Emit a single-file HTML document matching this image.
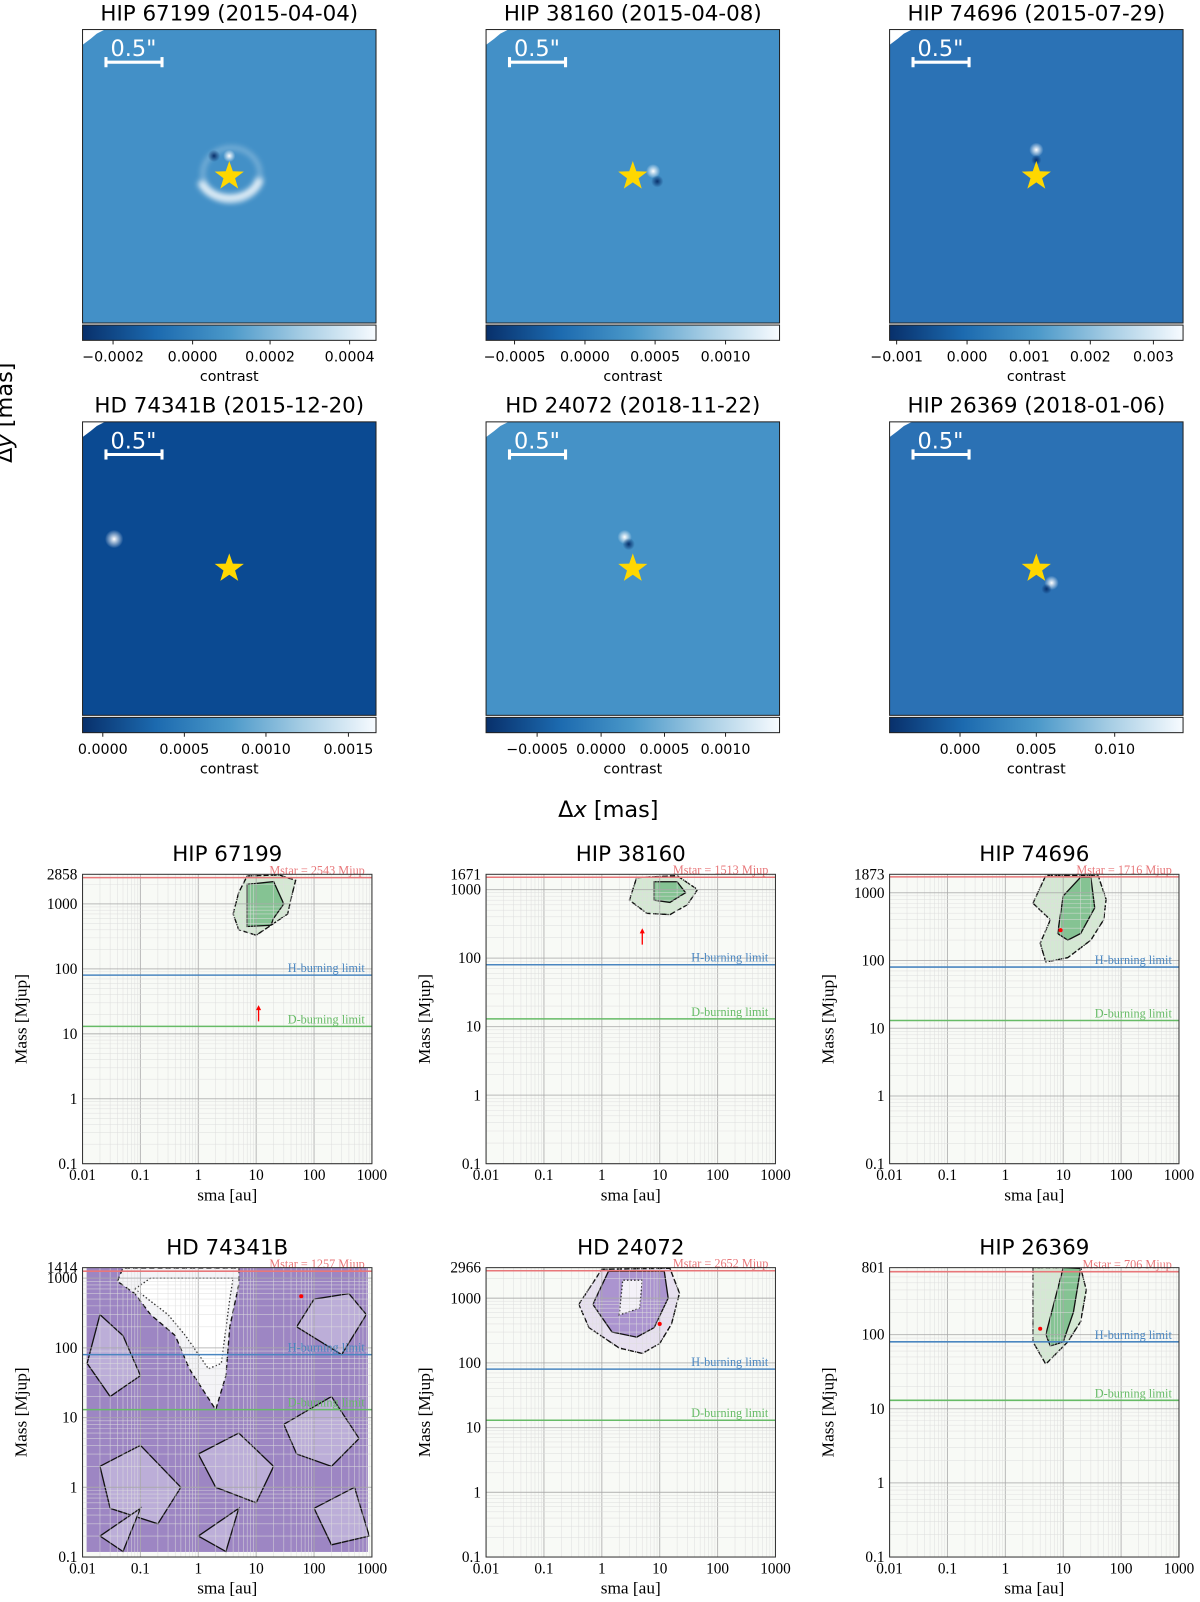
<!DOCTYPE html>
<html><head><meta charset="utf-8"><style>
body{margin:0;background:#fff;}
svg text{font-family:"DejaVu Sans","Liberation Sans",sans-serif;}
.serif{font-family:"Liberation Serif","DejaVu Serif",serif;}
</style></head><body>
<svg id="fig" width="1200" height="1597" viewBox="0 0 1200 1597" xmlns="http://www.w3.org/2000/svg">
<defs>
<linearGradient id="cb" x1="0" x2="1" y1="0" y2="0">
<stop offset="0" stop-color="#08306b"/><stop offset="0.25" stop-color="#1c6aaf"/><stop offset="0.5" stop-color="#4a98c9"/><stop offset="0.75" stop-color="#a6cde4"/><stop offset="1" stop-color="#f7fbff"/>
</linearGradient>
<radialGradient id="wb"><stop offset="0" stop-color="#fff"/><stop offset="1" stop-color="#fff" stop-opacity="0"/></radialGradient>
<radialGradient id="db"><stop offset="0" stop-color="#08306b"/><stop offset="1" stop-color="#08306b" stop-opacity="0"/></radialGradient>
<filter id="blur" x="-50%" y="-50%" width="200%" height="200%"><feGaussianBlur stdDeviation="3"/></filter>
</defs>
<g id="root" transform="scale(1.019)">
<text x="12" y="405" font-size="22" text-anchor="middle" transform="rotate(-90 12 405)">Δ<tspan font-style="italic">y</tspan> [mas]</text>
<text x="597" y="802" font-size="22" text-anchor="middle">Δ<tspan font-style="italic">x</tspan> [mas]</text>
<g id="imgs"></g>
<g id="charts"></g>
</g>
</svg>
<script>
const NS="http://www.w3.org/2000/svg";
function mk(p,tag,at,txt){const e=document.createElementNS(NS,tag);for(const k in at)e.setAttribute(k,at[k]);if(txt!==undefined)e.textContent=txt;p.appendChild(e);return e;}

// ---------- Image panels data ----------
const imgTitles=["HIP 67199 (2015-04-04)","HIP 38160 (2015-04-08)","HIP 74696 (2015-07-29)","HD 74341B (2015-12-20)","HD 24072 (2018-11-22)","HIP 26369 (2018-01-06)"];
const imgBg=["#4390c7","#4390c7","#2b72b5","#0b4a92","#4592c7","#2b71b4"];
const cbTickLabels=[["−0.0002","0.0000","0.0002","0.0004"],["−0.0005","0.0000","0.0005","0.0010"],["−0.001","0.000","0.001","0.002","0.003"],["0.0000","0.0005","0.0010","0.0015"],["−0.0005","0.0000","0.0005","0.0010"],["0.000","0.005","0.010"]];
const cbTickFrac=[[0.104,0.375,0.639,0.910],[0.097,0.337,0.576,0.816],[0.024,0.264,0.476,0.684,0.899],[0.069,0.347,0.625,0.906],[0.174,0.392,0.608,0.816],[0.240,0.500,0.767]];
const imgX=[81,477,873],imgY=[29,414];
const G=document.getElementById('imgs');
for(let i=0;i<6;i++){
 const x0=imgX[i%3],y0=imgY[Math.floor(i/3)],W=288;
 const g=mk(G,'g',{});
 
 
 const t=mk(g,'text',{x:x0+W/2,y:y0-9,'font-size':21,'text-anchor':'middle'},imgTitles[i]);
 
 
 mk(g,'rect',{x:x0,y:y0,width:W,height:W,fill:imgBg[i]});
 mk(g,'path',{d:`M${x0} ${y0}h22l-8 4l-6 5l-8 6z`,fill:'#fff'});
 const cx=x0+144,cy=y0+144;
 if(i==0){mk(g,'path',{d:`M${cx-28} ${cy+5} A30 24 0 0 0 ${cx+30} ${cy+2}`,fill:'none',stroke:'#f2f8fc','stroke-width':7,filter:'url(#blur)'});
  mk(g,'ellipse',{cx:cx+2,cy:cy-2,rx:28,ry:26,fill:'none',stroke:'#cfe3f1','stroke-width':3,opacity:0.6,filter:'url(#blur)'});
  mk(g,'circle',{cx:cx-15,cy:cy-20,r:6,fill:'url(#db)'});mk(g,'circle',{cx:cx,cy:cy-20,r:6,fill:'url(#wb)'});}
 if(i==1){mk(g,'circle',{cx:cx+20,cy:cy-5,r:7,fill:'url(#wb)'});mk(g,'circle',{cx:cx+24,cy:cy+5,r:6,fill:'url(#db)'});}
 if(i==2){mk(g,'circle',{cx:cx,cy:cy-26,r:7,fill:'url(#wb)'});mk(g,'circle',{cx:cx,cy:cy-16,r:5,fill:'url(#db)'});}
 if(i==3){mk(g,'circle',{cx:x0+31,cy:y0+115,r:9,fill:'url(#wb)'});}
 if(i==4){mk(g,'circle',{cx:cx-8,cy:cy-31,r:7,fill:'url(#wb)'});mk(g,'circle',{cx:cx-4,cy:cy-24,r:6,fill:'url(#db)'});}
 if(i==5){mk(g,'circle',{cx:cx+15,cy:cy+14,r:7,fill:'url(#wb)'});mk(g,'circle',{cx:cx+10,cy:cy+20,r:5,fill:'url(#db)'});}
 let pts=[];for(let k=0;k<10;k++){const r=k%2?6:15,a=-Math.PI/2+k*Math.PI/5;pts.push((cx+r*Math.cos(a)).toFixed(1)+','+(cy+r*Math.sin(a)).toFixed(1));}
 const st=mk(g,'polygon',{points:pts.join(' '),fill:'#ffd700'});
 
 
 mk(g,'rect',{x:x0,y:y0,width:W,height:W,fill:'none',stroke:'#222','stroke-width':1});
 const sb=mk(g,'g',{stroke:'#fff','stroke-width':3});
 
 
 mk(sb,'line',{x1:x0+22,y1:y0+32,x2:x0+79,y2:y0+32});mk(sb,'line',{x1:x0+23,y1:y0+27,x2:x0+23,y2:y0+37});mk(sb,'line',{x1:x0+78,y1:y0+27,x2:x0+78,y2:y0+37});
 mk(g,'text',{x:x0+50,y:y0+26,'font-size':22,'text-anchor':'middle',fill:'#fff'},'0.5"');
 const cb=mk(g,'rect',{x:x0,y:y0+290,width:W,height:15,fill:'url(#cb)',stroke:'#222','stroke-width':1});
 
 
 cbTickLabels[i].forEach((lb,k)=>{const tx=x0+cbTickFrac[i][k]*W;mk(g,'line',{x1:tx,y1:y0+305,x2:tx,y2:y0+309,stroke:'#222'});
  const tt=mk(g,'text',{x:tx,y:y0+326,'font-size':14,'text-anchor':'middle'},lb);
  
  });
 const ct=mk(g,'text',{x:x0+144,y:y0+345,'font-size':14,'text-anchor':'middle'},'contrast');
 
 
}

// ---------- Mass-sma charts data ----------
const chartTitles=["HIP 67199","HIP 38160","HIP 74696","HD 74341B","HD 24072","HIP 26369"];
const topMass=[2858,1671,1873,1414,2966,801];
const mstar=[2543,1513,1716,1257,2652,706];
const hLimit=80, dLimit=13;
const xTickLabels=["0.01","0.1","1","10","100","1000"];
const yTickLabels=["0.1","1","10","100","1000"];
const outerBlobs=[
 [[4,700],[5,1500],[7,2700],[25,2800],[48,2300],[40,1200],[35,700],[20,500],[10,330],[5,400]],
 [[3,700],[4,1500],[20,1600],[45,1000],[30,600],[15,430],[6,450]],
 [[3,700],[5,1800],[40,1800],[55,800],[50,400],[30,200],[12,110],[5,95],[4,180],[6,400]],
 [[0.04,900],[0.05,1400],[5,1400],[5,800],[3.5,200],[3,40],[2,13],[1.2,25],[0.7,50],[0.4,150],[0.15,300],[0.08,600]],
 [[0.4,800],[1,2800],[15,2900],[22,1200],[16,400],[10,200],[5,140],[2,170],[0.6,350]],
 [[3,200],[3,800],[20,800],[25,400],[20,150],[12,80],[5,40],[3,80]]];
const innerBlobs=[
 [[7,450],[7,2000],[20,2200],[30,1000],[20,600],[18,470]],
 [[8,700],[8,1300],[20,1300],[28,900],[15,650]],
 [[8,250],[10,900],[20,1700],[30,1700],[35,600],[20,250],[12,200]],
 [[0.03,5],[0.1,8],[0.2,3],[0.05,2]],
 [[0.7,800],[1.3,2600],[12,2600],[14,1000],[8,350],[4,250],[1.5,300]],
 [[5,100],[10,800],[20,780],[15,200],[10,80],[6,70]]];
const holeBlobs=[[],[],[],[],[[2,550],[2.3,1900],[5,1900],[4.5,700]],[]];
const markerSma=[11,5,9,60,10,4];
const markerMass=[20,200,280,550,400,120];
const fills=[["#cfe6cf","#7cbf8c","#6f9c7f"],["#cfe6cf","#7cbf8c","#6f9c7f"],["#cfe6cf","#7cbf8c","#6f9c7f"],["#ffffff","#9e87c4","#8c73b8"],["#e4ddef","#a48ccb","#9677c2"],["#cfe6cf","#7cbf8c","#6f9c7f"]];
const chX=[81,477,873],chYb=[1142,1528],H=284,Wc=284;
const C=document.getElementById('charts');
for(let i=0;i<6;i++){
 const x0=chX[i%3],yb=chYb[Math.floor(i/3)],yt=yb-H;
 const ly=Math.log10(topMass[i])+1;
 const X=s=>x0+(Math.log10(s)+2)/5*Wc;
 const Y=m=>yb-(Math.log10(m)+1)/ly*H;
 const g=mk(C,'g',{});
 
 
 const tt=mk(g,'text',{x:x0+Wc/2,y:yt-13,'font-size':21,'text-anchor':'middle'},chartTitles[i]);
 
 
 mk(g,'rect',{x:x0,y:yt,width:Wc,height:H,fill:'#f8faf6'});
 const clip=mk(g,'clipPath',{id:'cl'+i});mk(clip,'rect',{x:x0,y:yt,width:Wc,height:H});
 const pg=mk(g,'g',{'clip-path':'url(#cl'+i+')'});
 const poly=(arr,fill,stroke,dash,op)=>{if(!arr.length)return;const p=mk(pg,'polygon',{points:arr.map(d=>X(d[0]).toFixed(1)+','+Y(d[1]).toFixed(1)).join(' '),fill:fill,stroke:stroke,'stroke-width':1.3,'stroke-dasharray':dash,'fill-opacity':op});return p;};
 if(i==3){
  mk(pg,'rect',{x:x0+4,y:yt,width:Wc-8,height:H-5,fill:'#9d86c3'});
  const patches=[[[0.02,300],[0.05,150],[0.1,40],[0.03,20],[0.012,60]],[[0.02,2],[0.1,4],[0.5,1],[0.2,0.3],[0.03,0.5]],[[1,3],[5,6],[20,2],[10,0.6],[2,1]],[[50,200],[300,80],[800,300],[400,600],[100,500]],[[30,8],[200,20],[600,5],[200,2],[50,3]],[[100,0.5],[500,1],[900,0.2],[200,0.15]],[[1,0.2],[5,0.5],[3,0.12]],[[0.02,0.2],[0.1,0.5],[0.05,0.12]]];
  patches.forEach(p=>poly(p,'#bcaed8','#111','',1));
  poly(outerBlobs[i],'#f4f4f7','#111','5,3',1);
  poly([[0.08,700],[0.15,1000],[4,1000],[3.5,500],[2.5,60],[1.5,50],[0.6,150],[0.3,300]],'#ffffff','#333','1.5,2',1);
 } else {
  poly(outerBlobs[i],fills[i][0],'#333','1.5,2',0.9);
  poly(innerBlobs[i].length?outerBlobs[i].map(d=>[d[0],d[1]]):[],'none','#111','5,3',1);
  poly(innerBlobs[i],fills[i][1],'#111','',0.9);
  poly(holeBlobs[i],'#f4f1f8','#333','1.5,2',1);
 }
 for(let d=-2;d<=3;d++)for(let k=1;k<10;k++){const s=k*Math.pow(10,d);if(s>1000)break;mk(g,'line',{x1:X(s),y1:yt,x2:X(s),y2:yb,stroke:k==1?'#aaa':'#ddd','stroke-width':k==1?1:0.6,opacity:0.8});}
 for(let d=-1;d<=3;d++)for(let k=1;k<10;k++){const m=k*Math.pow(10,d);if(m>topMass[i])break;mk(g,'line',{x1:x0,y1:Y(m),x2:x0+Wc,y2:Y(m),stroke:k==1?'#aaa':'#ddd','stroke-width':k==1?1:0.6,opacity:0.8});}
 const lines=[[mstar[i],'#e8777a','Mstar = '+mstar[i]+' Mjup','mstar-line'],[hLimit,'#4a86c0','H-burning limit','h-burning-line'],[dLimit,'#66bb66','D-burning limit','d-burning-line']];
 lines.forEach(L=>{const ln=mk(g,'line',{x1:x0,y1:Y(L[0]),x2:x0+Wc,y2:Y(L[0]),stroke:L[1],'stroke-width':1.5});
  
  
  mk(g,'text',{x:x0+Wc-7,y:Y(L[0])-3,'font-size':12,'text-anchor':'end',fill:L[1],class:'serif'},L[2]);});
 const mx=X(markerSma[i]),my=Y(markerMass[i]);
 const mkk=mk(g,'g',{});
 
 
 if(i<2){mk(mkk,'line',{x1:mx,y1:my+7,x2:mx,y2:my-7,stroke:'red','stroke-width':1.3});mk(mkk,'path',{d:`M${mx-2.5} ${my-4}L${mx} ${my-9}L${mx+2.5} ${my-4}z`,fill:'red'});}
 else mk(mkk,'circle',{cx:mx,cy:my,r:2,fill:'red'});
 mk(g,'rect',{x:x0,y:yt,width:Wc,height:H,fill:'none',stroke:'#333','stroke-width':1});
 xTickLabels.forEach((lb,k)=>{const tx=X(Math.pow(10,k-2));const t=mk(g,'text',{x:tx,y:yb+16,'font-size':15,'text-anchor':'middle',class:'serif'},lb);});
 yTickLabels.forEach((lb,k)=>{const v=Math.pow(10,k-1);if(v>topMass[i])return;const t=mk(g,'text',{x:x0-5,y:Y(v)+5,'font-size':15,'text-anchor':'end',class:'serif'},lb);});
 const tm=mk(g,'text',{x:x0-5,y:yt+5,'font-size':15,'text-anchor':'end',class:'serif'},String(topMass[i]));
 
 
 const xl=mk(g,'text',{x:x0+Wc/2,y:yb+36,'font-size':17,'text-anchor':'middle',class:'serif'},'sma [au]');
 
 
 const yx=x0-55,yy=yb-H/2;
 const yl=mk(g,'text',{x:yx,y:yy,'font-size':17,'text-anchor':'middle',class:'serif',transform:`rotate(-90 ${yx} ${yy})`},'Mass [Mjup]');
 
 
}
</script>
</body></html>
